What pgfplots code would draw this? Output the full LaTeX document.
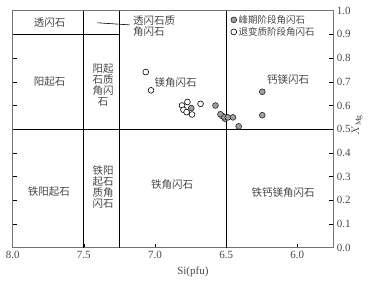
\documentclass[border=0pt]{standalone}
\usepackage{fontspec}
\setmainfont{Liberation Serif}
\newfontfamily\cjk{Noto Sans CJK SC}
\usepackage{pgfplots}
\pgfplotsset{compat=1.18}
\definecolor{txt}{gray}{0.28}
\definecolor{frame}{gray}{0.45}
\begin{document}
\begin{tikzpicture}[x=1pt,y=1pt]
\useasboundingbox (0,0) rectangle (376,282);
\begin{axis}[
  at={(12.7pt,34.3pt)}, anchor=south west, scale only axis,
  width=320.6pt, height=237pt,
  x dir=reverse, xmin=5.747, xmax=8.0, ymin=0, ymax=1,
  xtick={6.0,6.5,7.0,7.5,8.0},
  ytick={0,0.1,0.2,0.3,0.4,0.5,0.6,0.7,0.8,0.9,1.0},
  xtick pos=bottom, ytick pos=both, yticklabel pos=right,
  tick align=inside, major tick length=4pt,
  tick style={draw=black, line width=0.6pt},
  axis line style={draw=frame, line width=1.1pt},
  /pgf/number format/assume math mode=true,
  /pgf/number format/.cd, fixed, fixed zerofill, precision=1, /pgfplots/.cd,
  ticklabel style={font=\fontsize{11}{13}\selectfont, text=txt},
  xlabel={Si(pfu)},
  xlabel style={at={(axis description cs:0.562,-0.103)}, anchor=center, font=\fontsize{11}{13}\selectfont, text=txt},
  ylabel={$X_{\mathrm{Mg}}$},
  every axis y label/.style={at={(axis description cs:1.074,0.518)}, rotate=90, anchor=center, font=\fontsize{11}{13}\selectfont, text=txt},
  legend style={at={(axis cs:6.475,0.995)}, anchor=north west, draw=none, fill=none,
    font=\cjk\fontsize{9.5}{11}\selectfont, text=txt, row sep=-1.5pt, inner sep=1pt},
  legend cell align=left, reverse legend,
  legend image code/.code={\draw[#1] plot coordinates {(0.05cm,0cm)};},
  clip=false,
]
% classification boundaries
\addplot[black, line width=0.8pt, forget plot] coordinates {(8.0,0.5) (5.747,0.5)};
\addplot[black, line width=0.8pt, forget plot] coordinates {(8.0,0.9) (7.25,0.9)};
\addplot[black, line width=0.8pt, forget plot] coordinates {(7.5,0) (7.5,1)};
\addplot[black, line width=0.8pt, forget plot] coordinates {(7.25,0) (7.25,1)};
\addplot[black, line width=0.8pt, forget plot] coordinates {(6.5,0) (6.5,1)};
\addplot[black, line width=0.6pt, forget plot] coordinates {(7.405,0.949) (7.175,0.940)};
% retrograde (open)
\addplot[only marks, mark=*, mark size=2.9pt, mark options={fill=white, draw=black, line width=0.6pt}]
coordinates {
(7.065,0.741) (7.028,0.664) (6.810,0.600) (6.772,0.615) (6.680,0.607)
(6.800,0.582) (6.778,0.572) (6.740,0.562) (6.528,0.556) (6.508,0.545)
};
\addlegendentry{退变质阶段角闪石}
% peak (filled)
\addplot[only marks, mark=*, mark size=2.9pt, mark options={fill=gray!75, draw=gray!30!black, line width=0.6pt}]
coordinates {
(6.745,0.589) (6.575,0.600) (6.540,0.563) (6.512,0.550) (6.488,0.550)
(6.452,0.550) (6.412,0.512) (6.246,0.658) (6.246,0.559)
};
\addlegendentry{峰期阶段角闪石}
% field names
\begin{scope}[every node/.style={font=\cjk\fontsize{10.5}{11}\selectfont, text=txt, align=center, inner sep=0pt}]
\node at (axis cs:7.74,0.948) {透闪石};
\node at (axis cs:7.74,0.700) {阳起石};
\node at (axis cs:7.365,0.686) {阳起\\石质\\角闪\\石};
\node[anchor=west, align=left] at (axis cs:7.155,0.937) {透闪石质\\角闪石};
\node at (axis cs:6.855,0.697) {镁角闪石};
\node at (axis cs:6.065,0.708) {钙镁闪石};
\node at (axis cs:7.745,0.239) {铁阳起石};
\node at (axis cs:7.365,0.257) {铁阳\\起石\\质角\\闪石};
\node at (axis cs:6.880,0.265) {铁角闪石};
\node at (axis cs:6.100,0.232) {铁钙镁角闪石};
\end{scope}
\end{axis}
\end{tikzpicture}
\end{document}
